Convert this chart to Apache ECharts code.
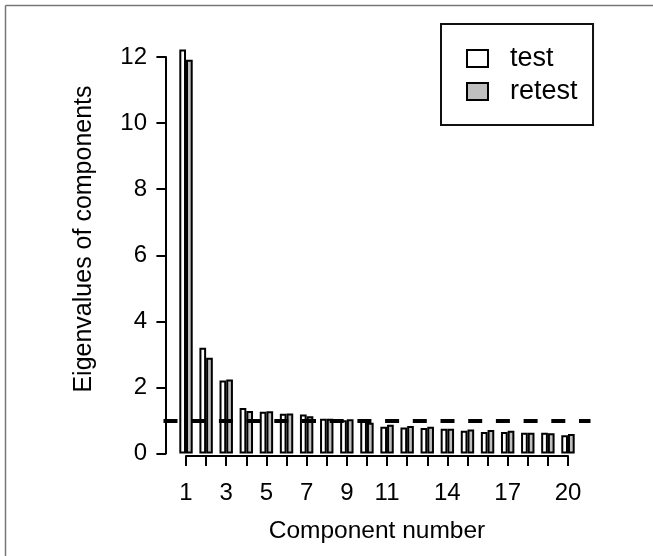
<!DOCTYPE html>
<html>
<head>
<meta charset="utf-8">
<script src="https://cdn.jsdelivr.net/npm/echarts@6/dist/echarts.min.js"></script>
<style>
html,body{margin:0;padding:0;background:#fff;}
#chart{width:653px;height:556px;}
</style>
</head>
<body>
<div id="chart"></div>
<script>
const components = [1,2,3,4,5,6,7,8,9,10,11,12,13,14,15,16,17,18,19,20];
const testValues = [12.23,3.2,2.21,1.38,1.26,1.2,1.18,1.05,1.01,1.01,0.81,0.79,0.77,0.75,0.69,0.65,0.65,0.63,0.63,0.55];
const retestValues = [11.92,2.9,2.24,1.29,1.28,1.21,1.13,1.05,1.04,0.93,0.87,0.83,0.81,0.75,0.73,0.71,0.69,0.63,0.61,0.59];
const xTickLabels = ['1','3','5','7','9','11','14','17','20'];
const yTickMin = 0, yTickMax = 12, yTickStep = 2;
const cutoff = 1;

const FONT = 'Liberation Sans';
const chart = echarts.init(document.getElementById('chart'), null, {renderer:'canvas'});

const option = {
  animation: false,
  backgroundColor: '#fff',
  grid: [
    {left: 163.5, top: 57, width: 427, height: 396.5},
    {left: 186, top: 455, width: 382, height: 1}
  ],
  xAxis: [
    {type:'value', gridIndex:0, min:-0.12, max:21.12, show:false},
    {type:'value', gridIndex:1, min:1, max:20, interval:1, position:'bottom',
     axisLine:{show:true, lineStyle:{color:'#000', width:2}},
     axisTick:{show:true, length:10, lineStyle:{color:'#000', width:2}},
     splitLine:{show:false},
     axisLabel:{margin:25, color:'#000', fontFamily:FONT, fontSize:24, lineHeight:24,
       formatter: v => xTickLabels.includes(String(v)) ? String(v) : ''},
     name:'Component number', nameLocation:'middle', nameGap:62.5,
     nameTextStyle:{color:'#000', fontFamily:FONT, fontSize:24.5, lineHeight:25}
    }
  ],
  yAxis: [
    {type:'value', gridIndex:0, min:yTickMin, max:yTickMax, interval:yTickStep,
     axisLine:{show:true, lineStyle:{color:'#000', width:2}},
     axisTick:{show:true, length:9.5, lineStyle:{color:'#000', width:2}},
     splitLine:{show:false},
     axisLabel:{margin:16.5, color:'#000', fontFamily:FONT, fontSize:24}
    },
    {type:'value', gridIndex:1, show:false, min:0, max:1}
  ],
  legend: {
    orient:'vertical', left:441, top:24,
    padding:[20.5,15.5,19.5,25],
    itemWidth:21, itemHeight:17, itemGap:5,
    icon:'rect',
    itemStyle:{borderColor:'#000', borderWidth:2},
    borderColor:'#111', borderWidth:2, backgroundColor:'#fff',
    textStyle:{color:'#000', fontFamily:FONT, fontSize:27, lineHeight:28, padding:[0,0,0,17]},
    data:['test','retest']
  },
  graphic: [
    {type:'line', shape:{x1:5.5, y1:5.5, x2:653, y2:5.5}, style:{stroke:'#777', lineWidth:1.5}},
    {type:'line', shape:{x1:5.5, y1:5.5, x2:5.5, y2:556}, style:{stroke:'#777', lineWidth:1.5}},
    {type:'text', x:84.5, y:239, rotation:Math.PI/2,
     style:{text:'Eigenvalues of components', fill:'#000', font:'25px "Liberation Sans"', align:'center', verticalAlign:'middle'}}
  ],
  series: [
    {name:'test', type:'bar', xAxisIndex:0, yAxisIndex:0, clip:false,
     barWidth:6.7, barGap:'0%',
     itemStyle:{color:'#ffffff', borderColor:'#000', borderWidth:2},
     data: components.map((c,i)=>[c, testValues[i]])},
    {name:'retest', type:'bar', xAxisIndex:0, yAxisIndex:0, clip:false,
     barWidth:6.7, barGap:'0%',
     itemStyle:{color:'#bfbfbf', borderColor:'#000', borderWidth:2},
     data: components.map((c,i)=>[c, retestValues[i]]),
     markLine:{silent:true, symbol:'none', label:{show:false}, z:10,
       lineStyle:{color:'#000', width:4, type:[14,13.7], cap:'butt'},
       data:[{yAxis:cutoff}]}
    }
  ]
};
chart.setOption(option);
</script>
</body>
</html>
